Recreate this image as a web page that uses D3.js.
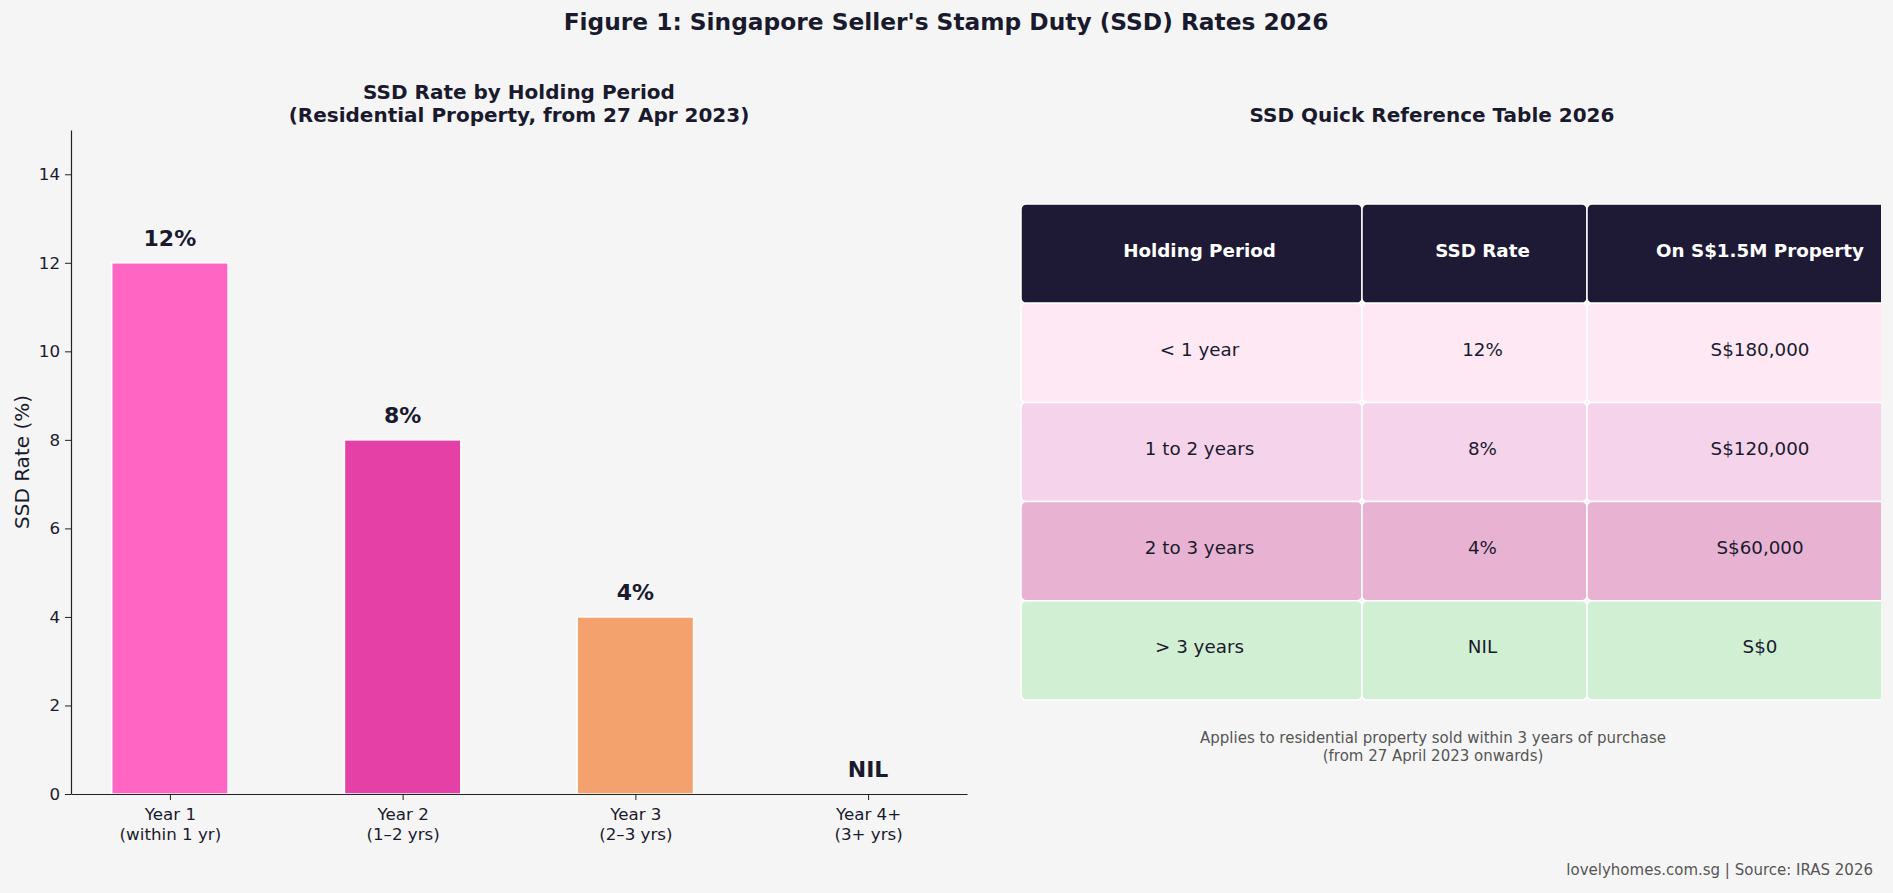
<!DOCTYPE html>
<html>
<head>
<meta charset="utf-8">
<script src="https://cdn.jsdelivr.net/npm/d3@7"></script>
<style>
  html, body { margin: 0; padding: 0; background: #f5f5f5; }
  svg { display: block; font-family: "DejaVu Sans", sans-serif; }
</style>
</head>
<body>
<svg id="chart" width="1893" height="893"></svg>
<script>
// bar chart data
const yearLabels = ["Year 1", "Year 2", "Year 3", "Year 4+"];
const yearSubLabels = ["(within 1 yr)", "(1\u20132 yrs)", "(2\u20133 yrs)", "(3+ yrs)"];
const ssdRates = [12, 8, 4, 0];
const rateLabels = ["12%", "8%", "4%", "NIL"];
const barColors = ["#ff66c4", "#e540a5", "#f4a26d", "#cccccc"];
const yTicks = [0, 2, 4, 6, 8, 10, 12, 14];

// table data
const tableHeaders = ["Holding Period", "SSD Rate", "On S$1.5M Property"];
const holdingPeriods = ["< 1 year", "1 to 2 years", "2 to 3 years", "> 3 years"];
const tableRates = ["12%", "8%", "4%", "NIL"];
const dutyOnProperty = ["S$180,000", "S$120,000", "S$60,000", "S$0"];
const rowColors = ["#fde8f4", "#f5d3ea", "#e8b3d3", "#d1f0d3"];

const ink = "#1a1a2e";
const svg = d3.select("#chart");

// figure title
svg.append("text")
    .attr("x", 946).attr("y", 30)
    .attr("text-anchor", "middle")
    .attr("font-size", 23.3).attr("font-weight", "bold")
    .attr("fill", ink)
    .text("Figure 1: Singapore Seller's Stamp Duty (SSD) Rates 2026");

// ---- left: bar chart ----
const plot = { left: 71, right: 967, top: 130, bottom: 794 };
const barWidth = 0.5;

const x = d3.scaleLinear().domain([-0.425, 3.425]).range([plot.left, plot.right]);
const y = d3.scaleLinear().domain([0, 15]).range([plot.bottom, plot.top]);

const subTitle = svg.append("text")
    .attr("text-anchor", "middle")
    .attr("font-size", 20).attr("font-weight", "bold")
    .attr("fill", ink);
subTitle.append("tspan").attr("x", 519).attr("y", 99).text("SSD Rate by Holding Period");
subTitle.append("tspan").attr("x", 519).attr("y", 122).text("(Residential Property, from 27 Apr 2023)");

// bars (zero-height bar for Year 4+ is skipped)
svg.append("g").selectAll("rect")
    .data(ssdRates.map((v, i) => ({ v, i })).filter((d) => d.v > 0))
    .join("rect")
    .attr("x", (d) => x(d.i - barWidth / 2))
    .attr("width", x(barWidth) - x(0))
    .attr("y", (d) => y(d.v))
    .attr("height", (d) => y(0) - y(d.v))
    .attr("fill", (d) => barColors[d.i])
    .attr("stroke", "#ffffff")
    .attr("stroke-width", 1.5);

svg.append("g").selectAll("text")
    .data(rateLabels)
    .join("text")
    .attr("x", (d, i) => x(i))
    .attr("y", (d, i) => y(ssdRates[i] + 0.38))
    .attr("text-anchor", "middle")
    .attr("font-size", 22).attr("font-weight", "bold")
    .attr("fill", ink)
    .text((d) => d);

// y axis
const yAxis = svg.append("g")
    .attr("transform", `translate(${plot.left},0)`)
    .call(d3.axisLeft(y).tickValues(yTicks).tickSize(6).tickSizeOuter(0).tickPadding(5));
yAxis.select(".domain").attr("stroke", "#222").attr("stroke-width", 1.2);
yAxis.selectAll(".tick line").attr("stroke", "#222");
yAxis.selectAll(".tick text").attr("font-size", 16.7).attr("fill", ink).attr("font-family", "DejaVu Sans");

// x axis
const xAxis = svg.append("g")
    .attr("transform", `translate(0,${plot.bottom})`)
    .call(d3.axisBottom(x).tickValues([0, 1, 2, 3]).tickSize(6).tickSizeOuter(0).tickFormat(""));
xAxis.select(".domain").attr("stroke", "#222").attr("stroke-width", 1.2);
xAxis.selectAll(".tick line").attr("stroke", "#222");
xAxis.selectAll(".tick").each(function (d) {
    const t = d3.select(this).append("text")
        .attr("text-anchor", "middle")
        .attr("font-size", 16.7)
        .attr("fill", ink)
        .attr("font-family", "DejaVu Sans");
    t.append("tspan").attr("x", 0).attr("y", 26).text(yearLabels[d]);
    t.append("tspan").attr("x", 0).attr("y", 46).text(yearSubLabels[d]);
});

svg.append("text")
    .attr("transform", `translate(29,${(plot.top + plot.bottom) / 2}) rotate(-90)`)
    .attr("text-anchor", "middle")
    .attr("font-size", 20)
    .attr("fill", ink)
    .text("SSD Rate (%)");

// ---- right: reference table ----
svg.append("text")
    .attr("x", 1432).attr("y", 122)
    .attr("text-anchor", "middle")
    .attr("font-size", 20).attr("font-weight", "bold")
    .attr("fill", ink)
    .text("SSD Quick Reference Table 2026");

const tableLeft = 1021;
const tableTop = 204;
const rowHeight = 99.2;
const colWidths = [341, 225, 330];
const colLefts = colWidths.map((w, i) => tableLeft + d3.sum(colWidths.slice(0, i)));

svg.append("clipPath").attr("id", "table-clip")
    .append("rect").attr("x", 1000).attr("y", 180).attr("width", 881).attr("height", 560);

const rows = [tableHeaders].concat(holdingPeriods.map((p, i) => [p, tableRates[i], dutyOnProperty[i]]));
const fills = ["#1e1a35"].concat(rowColors);

const table = svg.append("g").attr("clip-path", "url(#table-clip)");
const rowG = table.selectAll("g.row")
    .data(rows)
    .join("g")
    .attr("class", "row")
    .attr("transform", (d, r) => `translate(0,${tableTop + r * rowHeight})`);

rowG.each(function (cells, r) {
    const g = d3.select(this);
    g.selectAll("rect")
        .data(cells)
        .join("rect")
        .attr("x", (d, c) => colLefts[c])
        .attr("y", 0)
        .attr("width", (d, c) => colWidths[c])
        .attr("height", rowHeight)
        .attr("rx", 5).attr("ry", 5)
        .attr("fill", fills[r])
        .attr("stroke", "#ffffff")
        .attr("stroke-width", 1.5);
    g.selectAll("text")
        .data(cells)
        .join("text")
        .attr("x", (d, c) => colLefts[c] + colWidths[c] / 2 + 8)
        .attr("y", rowHeight / 2 + 3)
        .attr("text-anchor", "middle")
        .attr("font-size", 18.3)
        .attr("font-weight", r === 0 ? "bold" : "normal")
        .attr("fill", r === 0 ? "#ffffff" : ink)
        .text((d) => d);
});

const note = svg.append("text")
    .attr("text-anchor", "middle")
    .attr("font-size", 15)
    .attr("fill", "#555555");
note.append("tspan").attr("x", 1433).attr("y", 743).text("Applies to residential property sold within 3 years of purchase");
note.append("tspan").attr("x", 1433).attr("y", 761).text("(from 27 April 2023 onwards)");

svg.append("text")
    .attr("x", 1873).attr("y", 875)
    .attr("text-anchor", "end")
    .attr("font-size", 15)
    .attr("fill", "#555555")
    .text("lovelyhomes.com.sg | Source: IRAS 2026");
</script>
</body>
</html>
